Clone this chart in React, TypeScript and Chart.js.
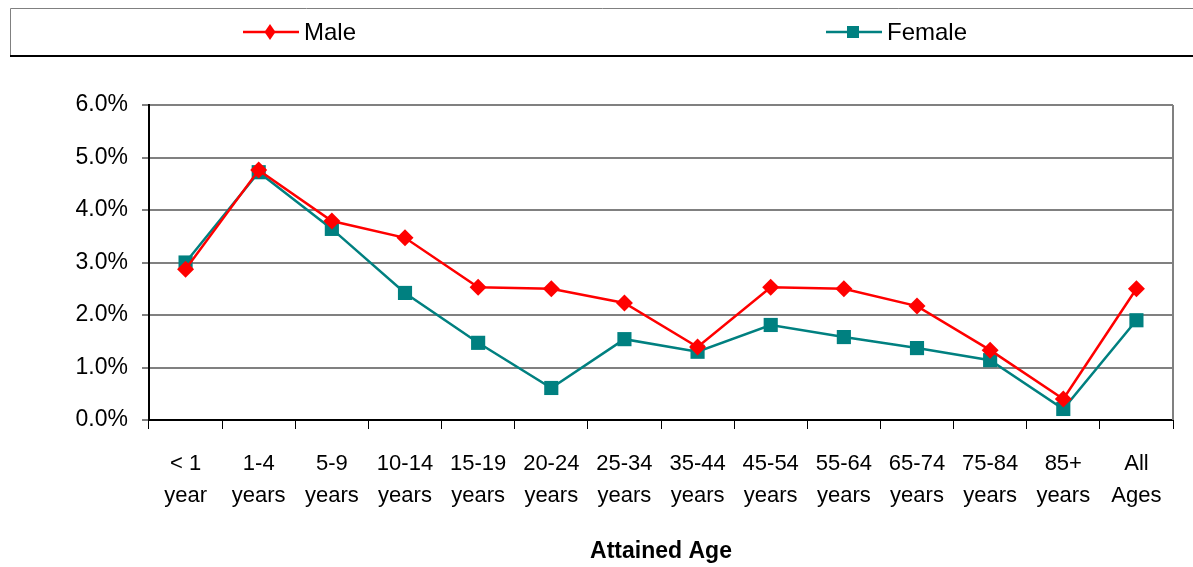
import React, { useEffect, useRef } from "react";
import { Chart, registerables } from "chart.js";

Chart.register(...registerables);

const categories: string[][] = [
  ["< 1", "year"], ["1-4", "years"], ["5-9", "years"], ["10-14", "years"],
  ["15-19", "years"], ["20-24", "years"], ["25-34", "years"], ["35-44", "years"],
  ["45-54", "years"], ["55-64", "years"], ["65-74", "years"], ["75-84", "years"],
  ["85+", "years"], ["All", "Ages"],
];
const maleValues = [2.87, 4.76, 3.79, 3.47, 2.53, 2.50, 2.23, 1.39, 2.53, 2.50, 2.17, 1.33, 0.40, 2.50];
const femaleValues = [3.00, 4.72, 3.64, 2.42, 1.47, 0.61, 1.54, 1.30, 1.81, 1.58, 1.37, 1.14, 0.21, 1.90];
const seriesNames = ["Male", "Female"];
const xTitle = "Attained Age";

const FONT = "'Liberation Sans', Arial, sans-serif";
const RED = "#FF0000";
const TEAL = "#008080";

const frameAndLegend = {
  id: "frameAndLegend",
  afterDraw(chart: any) {
    const { ctx, chartArea } = chart;
    ctx.save();
    // right border of plot area
    ctx.strokeStyle = "#808080";
    ctx.lineWidth = 2;
    ctx.beginPath();
    ctx.moveTo(chartArea.right, chartArea.top);
    ctx.lineTo(chartArea.right, chartArea.bottom);
    ctx.stroke();

    // legend box
    ctx.strokeStyle = "#808080";
    ctx.lineWidth = 1;
    ctx.beginPath();
    ctx.moveTo(10.5, 56);
    ctx.lineTo(10.5, 8.5);
    ctx.lineTo(1200, 8.5);
    ctx.stroke();
    ctx.strokeStyle = "#000000";
    ctx.lineWidth = 2;
    ctx.beginPath();
    ctx.moveTo(10, 56);
    ctx.lineTo(1200, 56);
    ctx.stroke();

    const items = [
      { x: 243, ds: chart.data.datasets[0] },
      { x: 826, ds: chart.data.datasets[1] },
    ];
    const y = 32;
    items.forEach((it) => {
      const color = it.ds.borderColor;
      ctx.strokeStyle = color;
      ctx.fillStyle = color;
      ctx.lineWidth = 2.5;
      ctx.beginPath();
      ctx.moveTo(it.x, y);
      ctx.lineTo(it.x + 56, y);
      ctx.stroke();
      const cx = it.x + 27;
      ctx.beginPath();
      if (it.ds.pointStyle === "rectRot") {
        ctx.moveTo(cx, y - 8);
        ctx.lineTo(cx + 5.5, y);
        ctx.lineTo(cx, y + 8);
        ctx.lineTo(cx - 5.5, y);
        ctx.closePath();
      } else {
        ctx.rect(cx - 6, y - 6, 12, 12);
      }
      ctx.fill();
      ctx.fillStyle = "#000";
      ctx.font = `24px ${FONT}`;
      ctx.textBaseline = "middle";
      ctx.textAlign = "left";
      ctx.fillText(it.ds.label, it.x + 61, y + 1);
    });
    ctx.restore();
  },
};

export default function App() {
  const ref = useRef<HTMLCanvasElement | null>(null);
  useEffect(() => {
    if (!ref.current) return;
    const chart = new Chart(ref.current, {
      type: "line",
      data: {
        labels: categories,
        datasets: [
          {
            label: seriesNames[0],
            data: maleValues,
            borderColor: RED,
            backgroundColor: RED,
            borderWidth: 2.5,
            pointStyle: "rectRot",
            pointRadius: 8.5,
            pointBorderWidth: 0,
            tension: 0,
          },
          {
            label: seriesNames[1],
            data: femaleValues,
            borderColor: TEAL,
            backgroundColor: TEAL,
            borderWidth: 2.5,
            pointStyle: "rect",
            pointRadius: 10,
            pointBorderWidth: 0,
            tension: 0,
          },
        ],
      },
      options: {
        animation: false,
        responsive: true,
        maintainAspectRatio: false,
        layout: { padding: { top: 105, right: 20, left: 0, bottom: 0 } },
        plugins: {
          legend: { display: false },
          tooltip: { enabled: false },
        },
        scales: {
          x: {
            type: "category",
            offset: true,
            afterFit: (s: any) => { s.height = 147; },
            grid: {
              offset: true,
              drawOnChartArea: false,
              drawTicks: true,
              tickLength: 9,
              color: "#000",
              lineWidth: 1,
            },
            border: { display: true, color: "#000", width: 2 },
            ticks: {
              color: "#000",
              font: { family: FONT, size: 22, lineHeight: 1.45 },
              padding: 19,
              maxRotation: 0,
              autoSkip: false,
            },
            title: {
              display: true,
              text: xTitle,
              color: "#000",
              font: { family: FONT, size: 23, weight: "bold", lineHeight: 1.2 },
              padding: { top: 4, bottom: 2 },
            },
          },
          y: {
            min: 0,
            max: 6,
            afterFit: (s: any) => { s.width = 149; },
            grid: {
              color: "#808080",
              lineWidth: 2,
              drawTicks: true,
              tickLength: 7,
              tickColor: "#000",
              tickWidth: 1,
            },
            border: { display: true, color: "#000", width: 2 },
            ticks: {
              stepSize: 1,
              color: "#000",
              padding: 14,
              font: { family: FONT, size: 23 },
              callback: (v: any) => Number(v).toFixed(1) + "%",
            },
          },
        },
      },
      plugins: [frameAndLegend],
    });
    return () => chart.destroy();
  }, []);
  return (
    <div style={{ position: "absolute", left: 0, top: 0, width: 1193, height: 567, background: "#fff" }}>
      <canvas ref={ref} />
    </div>
  );
}
